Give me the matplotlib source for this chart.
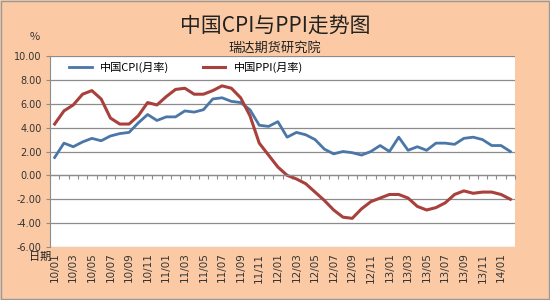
import matplotlib
matplotlib.use("Agg")
from matplotlib import pyplot as plt
import numpy as np

plt.rcParams['font.family'] = ['Noto Sans CJK SC', 'DejaVu Sans']

# 2010/01 - 2014/02 月度数据
months = ['10/01', '10/02', '10/03', '10/04', '10/05', '10/06', '10/07', '10/08', '10/09', '10/10', '10/11', '10/12',
          '11/01', '11/02', '11/03', '11/04', '11/05', '11/06', '11/07', '11/08', '11/09', '11/10', '11/11', '11/12',
          '12/01', '12/02', '12/03', '12/04', '12/05', '12/06', '12/07', '12/08', '12/09', '12/10', '12/11', '12/12',
          '13/01', '13/02', '13/03', '13/04', '13/05', '13/06', '13/07', '13/08', '13/09', '13/10', '13/11', '13/12',
          '14/01', '14/02']
cpi = [1.5, 2.7, 2.4, 2.8, 3.1, 2.9, 3.3, 3.5, 3.6, 4.4, 5.1, 4.6,
       4.9, 4.9, 5.4, 5.3, 5.5, 6.4, 6.5, 6.2, 6.1, 5.5, 4.2, 4.1,
       4.5, 3.2, 3.6, 3.4, 3.0, 2.2, 1.8, 2.0, 1.9, 1.7, 2.0, 2.5,
       2.0, 3.2, 2.1, 2.4, 2.1, 2.7, 2.7, 2.6, 3.1, 3.2, 3.0, 2.5,
       2.5, 2.0]
ppi = [4.3, 5.4, 5.9, 6.8, 7.1, 6.4, 4.8, 4.3, 4.3, 5.0, 6.1, 5.9,
       6.6, 7.2, 7.3, 6.8, 6.8, 7.1, 7.5, 7.3, 6.5, 5.0, 2.7, 1.7,
       0.7, 0.0, -0.3, -0.7, -1.4, -2.1, -2.9, -3.5, -3.6, -2.8, -2.2, -1.9,
       -1.6, -1.6, -1.9, -2.6, -2.9, -2.7, -2.3, -1.6, -1.3, -1.5, -1.4, -1.4,
       -1.6, -2.0]
yticks = [-6, -4, -2, 0, 2, 4, 6, 8, 10]

peach = '#fbcaa5'
fig = plt.figure(figsize=(5.5, 3), dpi=100, facecolor=peach)
ax = fig.add_axes([50/550, 1-247/300, 465/550, 191/300])
ax.set_facecolor('white')

x = np.arange(len(months))
ax.plot(x, cpi, color='#4a76a8', lw=2.0, label='中国CPI(月率)')
ax.plot(x, ppi, color='#a8403c', lw=2.2, label='中国PPI(月率)')

ax.set_xlim(-0.5, len(months) - 0.5)
ax.set_ylim(-6, 10)
ax.set_yticks(yticks)
ax.set_yticklabels(['%.2f' % v for v in yticks], fontsize=7, color='#333333', family='DejaVu Sans')
ax.yaxis.grid(True, color='#8c8c8c', lw=0.9)
ax.set_axisbelow(True)
ax.tick_params(axis='y', length=3, color='#8c8c8c', pad=3)

ax.set_xticks(x[::2])
ax.set_xticklabels(months[::2], rotation=90, fontsize=7.5, color='#333333', family='DejaVu Sans')
ax.tick_params(axis='x', length=0, pad=4)

for s in ['top', 'right', 'bottom']:
    ax.spines[s].set_visible(False)
ax.spines['left'].set_color('#8c8c8c')

# 零轴及刻度
ax.axhline(0, color='#8c8c8c', lw=0.9)
sec = ax.secondary_xaxis(6/16)
sec.set_xticks(np.arange(len(months) + 1) - 0.5)
sec.set_xticklabels([])
sec.tick_params(length=3, color='#8c8c8c', direction='out')
sec.spines['bottom'].set_visible(False)

leg = ax.legend(loc='upper left', ncol=2, frameon=False, fontsize=8,
                bbox_to_anchor=(0.02, 1.02), handlelength=2, columnspacing=3)

fig.text(0.5, 0.913, '中国CPI与PPI走势图', ha='center', va='center', fontsize=15, color='#222222')
fig.text(0.5, 0.838, '瑞达期货研究院', ha='center', va='center', fontsize=9.5, color='#222222')
fig.text(35/550, 1-37/300, '%', ha='center', va='center', fontsize=8, color='#333333')
fig.text(40/550, 1-257/300, '日期', ha='center', va='center', fontsize=8, color='#222222')

fig.patches.append(plt.Rectangle((0.002, 0.003), 0.996, 0.994, transform=fig.transFigure,
                                 fill=False, ec='#999999', lw=1))

fig.savefig('out.png', dpi=100, facecolor=peach)
